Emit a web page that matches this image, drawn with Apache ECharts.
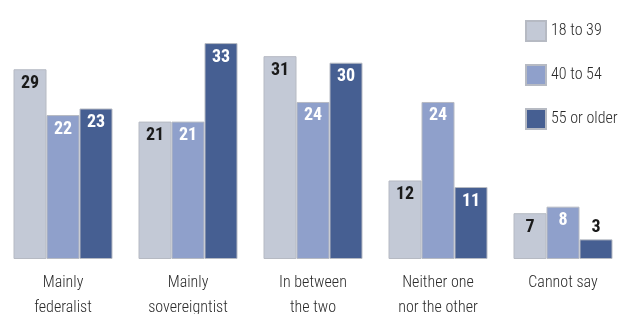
<!DOCTYPE html>
<html>
<head>
<meta charset="utf-8">
<script src="https://cdn.jsdelivr.net/npm/echarts@6/dist/echarts.min.js"></script>
<style>
html,body{margin:0;padding:0;background:#fff;}
#chart{width:628px;height:314px;}
</style>
</head>
<body>
<div id="chart"></div>
<script>
const categories = ["Mainly\nfederalist", "Mainly\nsovereigntist", "In between\nthe two", "Neither one\nnor the other", "Cannot say"];
const seriesNames = ["18 to 39", "40 to 54", "55 or older"];
const values18to39 = [29, 21, 31, 12, 7];
const values40to54 = [22, 21, 24, 24, 8];
const values55plus = [23, 33, 30, 11, 3];

const FONT = 'Roboto, "DejaVu Sans Condensed", sans-serif';
const colors = ['#c3c9d6', '#8fa0cb', '#465f92'];
const labelColors = ['#1a1a1a', '#ffffff', '#ffffff'];
const allValues = [values18to39, values40to54, values55plus];

function makeSeries(idx) {
  return {
    name: seriesNames[idx],
    type: 'bar',
    barWidth: 33,
    barGap: '0%',
    itemStyle: { color: colors[idx], borderColor: '#b6bac3', borderWidth: 1 },
    label: {
      show: true,
      position: 'insideTop',
      distance: 5,
      fontFamily: FONT,
      fontWeight: 'bold condensed',
      fontSize: 18,
      color: labelColors[idx]
    },
    data: allValues[idx].map(v => v < 5 ? { value: v, label: { position: 'top', color: '#1a1a1a', distance: 3 } } : v)
  };
}

const chart = echarts.init(document.getElementById('chart'), null, { renderer: 'canvas' });
chart.setOption({
  animation: false,
  backgroundColor: '#ffffff',
  textStyle: { fontFamily: FONT },
  legend: {
    orient: 'vertical',
    left: 520,
    top: 15,
    itemWidth: 20,
    itemHeight: 20,
    itemGap: 22,
    icon: 'rect',
    textStyle: { fontFamily: FONT, fontWeight: '300 condensed', fontSize: 16, color: '#2a2a2a', padding: [0, 0, 0, 0] },
    data: seriesNames
  },
  grid: { left: 0.5, right: 2.5, top: 30, bottom: 55, containLabel: false, outerBoundsMode: 'none' },
  xAxis: {
    type: 'category',
    data: categories,
    axisLine: { show: false },
    axisTick: { show: false },
    axisLabel: { fontFamily: FONT, fontWeight: '300 condensed', fontSize: 16, color: '#2a2a2a', lineHeight: 25, margin: 11, interval: 0 }
  },
  yAxis: {
    type: 'value',
    min: 0,
    max: 35,
    show: false,
    splitLine: { show: false }
  },
  series: [makeSeries(0), makeSeries(1), makeSeries(2)]
});
</script>
</body>
</html>
